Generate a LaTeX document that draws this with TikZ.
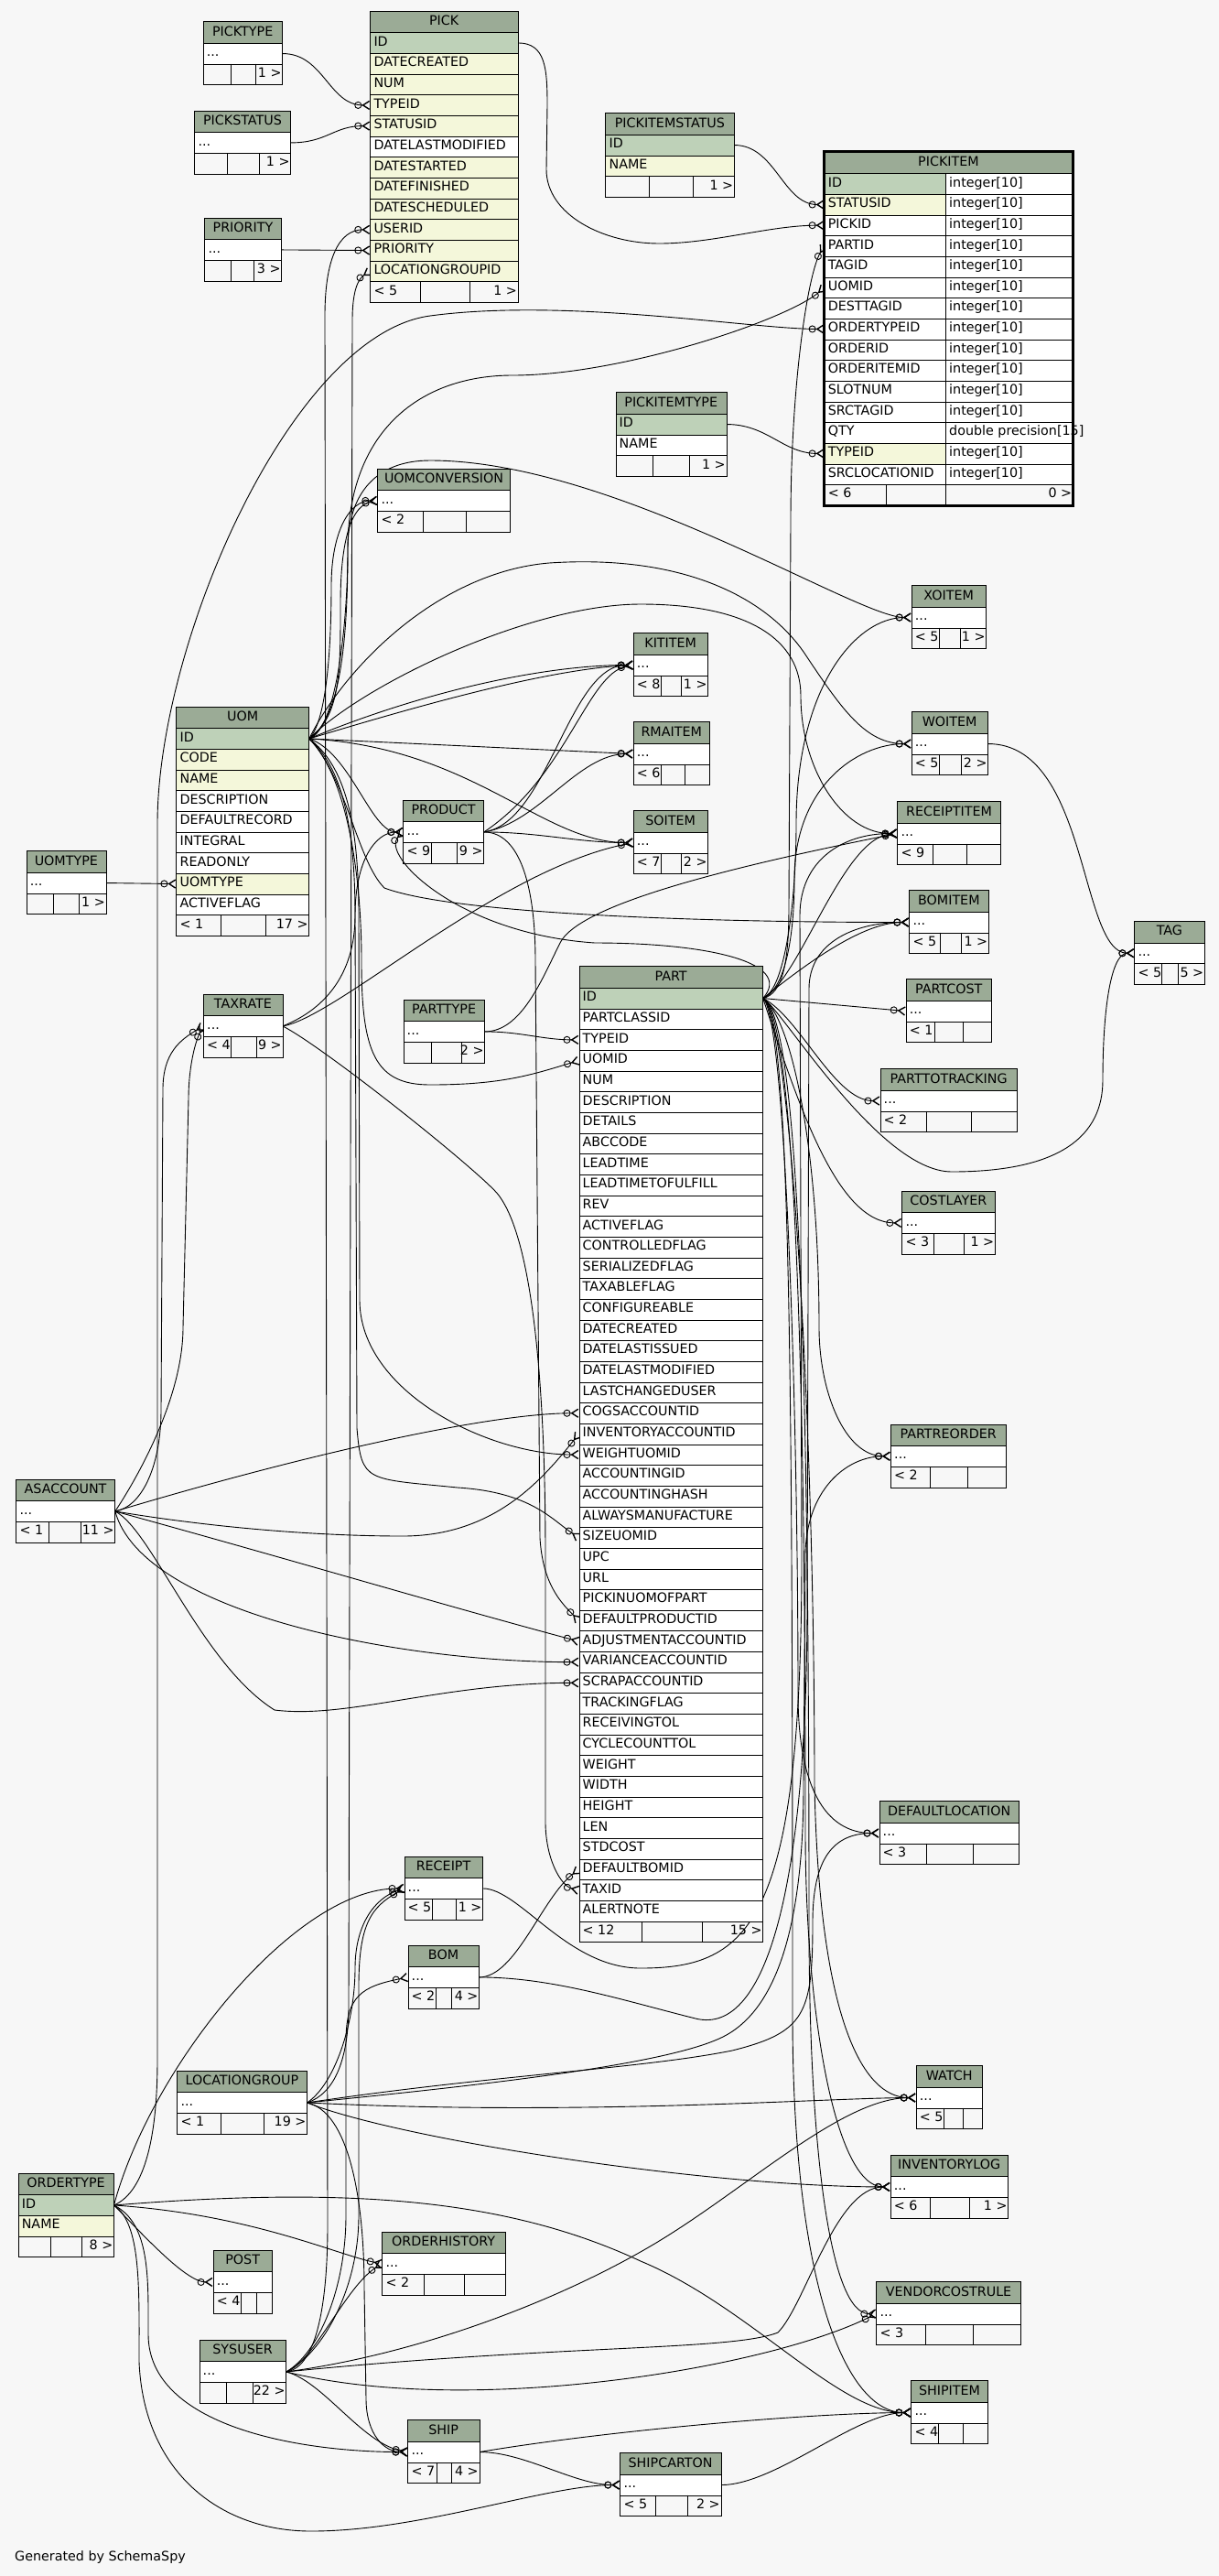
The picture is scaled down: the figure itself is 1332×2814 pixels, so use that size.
\documentclass[tikz,border=0pt]{standalone}
\usepackage{fontspec}
\setmainfont{DejaVu Sans}
\usetikzlibrary{arrows.meta}

\definecolor{paper}{HTML}{F7F7F7}
\definecolor{headfill}{HTML}{9BAB96}
\definecolor{keyfill}{HTML}{BED1B8}
\definecolor{idxfill}{HTML}{F4F7DA}

\newcommand{\rowfont}{\fontsize{14.3}{17}\selectfont}

\pgfdeclarelayer{paperlayer}
\pgfdeclarelayer{links}
\pgfsetlayers{paperlayer,links,main}

% table pieces, y grows downwards, sizes in px
\newcommand{\tablehead}[5]{% node, title, x, y, right x
  \pgfmathsetmacro\tblw{#5-(#3)}%
  \node[headbox, minimum width={\tblw pt}] (#1-head) at ({#3},{#4}) {#2};}
\newcommand{\tablerow}[6]{% node, text, x, y, right x, fill
  \pgfmathsetmacro\tblw{#5-(#3)}%
  \node[rowbox, fill=#6, minimum width={\tblw pt}] (#1) at ({#3},{#4}) {};
  \node[rowtext] at (#1.west) {#2};}
\newcommand{\tablefoot}[8]{% node, x, y, right x, divider 1, divider 2, left, right
  \pgfmathsetmacro\tblw{#4-(#2)}%
  \node[rowbox, minimum width={\tblw pt}] (#1-foot) at ({#2},{#3}) {};
  \draw ({#5},{#3}) -- ++(0,22.66) ({#6},{#3}) -- ++(0,22.66);
  \node[rowtext] at (#1-foot.west) {#7};
  \node[foottext] at (#1-foot.east) {#8};}
\newcommand{\smalltable}[9]{% node, title, x, y, right x, divider 1, divider 2, left, right
  \tablehead{#1}{#2}{#3}{#4}{#5}
  \tablerow{#1}{...}{#3}{#4+23.7}{#5}{white}
  \tablefoot{#1}{#3}{#4+46.36}{#5}{#6}{#7}{#8}{#9}}
\newcommand{\fulltable}[6]{% node, title, x, y, right x, rows
  \tablehead{#1}{#2}{#3}{#4}{#5}
  \foreach \col/\txt/\tone [count=\i from 0] in {#6}
    {\tablerow{#1-\col}{\txt}{#3}{#4+23.7+\i*22.66}{#5}{\tone}}}

\begin{document}
\begin{tikzpicture}[
    x=1pt, y=-1pt, line width=1pt,
    headbox/.style={draw, fill=headfill, anchor=north west, inner sep=0pt, minimum height=23.7pt, font=\rowfont, text height=10.4pt, text depth=3pt},
    rowbox/.style={draw, anchor=north west, inner sep=0pt, minimum height=22.66pt},
    rowtext/.style={anchor=west, inner xsep=4pt, inner ysep=0pt, font=\rowfont, text height=10.4pt, text depth=4pt},
    foottext/.style={rowtext, anchor=east, inner xsep=1pt},
    link/.style={line width=0.9pt},
    fk/.style={link, -{Circle[open, length=8pt, width=8pt] Straight Barb[reversed, length=7pt, width=9pt, line width=1.4pt]}}
]
    \useasboundingbox (0,0) rectangle (1332,2814);
    \begin{pgfonlayer}{paperlayer}
        \fill[paper] (0,0) rectangle (1332,2814);
    \end{pgfonlayer}

    % full tables
    \fulltable{pick}{PICK}{404.3}{11.7}{565.7}{id/ID/keyfill, datecreated/DATECREATED/idxfill, num/NUM/idxfill, typeid/TYPEID/idxfill, statusid/STATUSID/idxfill, datelastmodified/DATELASTMODIFIED/white, datestarted/DATESTARTED/idxfill, datefinished/DATEFINISHED/idxfill, datescheduled/DATESCHEDULED/idxfill, userid/USERID/idxfill, priority/PRIORITY/idxfill, locationgroupid/LOCATIONGROUPID/idxfill}
    \tablefoot{pick}{404.3}{307.3}{565.7}{459.3}{512.7}{< 5}{1 >}

    \fulltable{pickitemstatus}{PICKITEMSTATUS}{661.4}{123.3}{802}{id/ID/keyfill, name/NAME/idxfill}
    \tablefoot{pickitemstatus}{661.4}{192.3}{802}{709.3}{756.7}{}{1 >}

    \fulltable{pickitemtype}{PICKITEMTYPE}{672.5}{428.3}{793.5}{id/ID/keyfill, name/NAME/white}
    \tablefoot{pickitemtype}{672.5}{497.3}{793.5}{713.2}{753.2}{}{1 >}

    \tablehead{pickitem}{PICKITEM}{900.6}{165.6}{1172}
    \foreach \col/\txt/\tone/\kind [count=\i from 0] in {id/ID/keyfill/integer[10], statusid/STATUSID/idxfill/integer[10], pickid/PICKID/white/integer[10], partid/PARTID/white/integer[10], tagid/TAGID/white/integer[10], uomid/UOMID/white/integer[10], desttagid/DESTTAGID/white/integer[10], ordertypeid/ORDERTYPEID/white/integer[10], orderid/ORDERID/white/integer[10], orderitemid/ORDERITEMID/white/integer[10], slotnum/SLOTNUM/white/integer[10], srctagid/SRCTAGID/white/integer[10], qty/QTY/white/double precision[15], typeid/TYPEID/idxfill/integer[10], srclocationid/SRCLOCATIONID/white/integer[10]}
    {
        \tablerow{pickitem-\col}{\txt}{900.6}{189.3+\i*22.66}{1033}{\tone}
        \tablerow{pickitem-\col-type}{\kind}{1033}{189.3+\i*22.66}{1172}{white}
    }
    \tablefoot{pickitem}{900.6}{529.2}{1172}{968}{1033}{< 6}{0 >}
    \draw[line width=3pt] (pickitem-head.north west) rectangle (pickitem-foot.south east);

    \fulltable{uom}{UOM}{192.4}{771.7}{337.4}{id/ID/keyfill, code/CODE/idxfill, name/NAME/idxfill, description/DESCRIPTION/white, defaultrecord/DEFAULTRECORD/white, integral/INTEGRAL/white, readonly/READONLY/white, uomtype/UOMTYPE/idxfill, activeflag/ACTIVEFLAG/white}
    \tablefoot{uom}{192.4}{999.3}{337.4}{241.5}{289.7}{< 1}{17 >}

    \fulltable{part}{PART}{632.5}{1055.3}{833.3}{id/ID/keyfill, partclassid/PARTCLASSID/white, typeid/TYPEID/white, uomid/UOMID/white, num/NUM/white, description/DESCRIPTION/white, details/DETAILS/white, abccode/ABCCODE/white, leadtime/LEADTIME/white, leadtimetofulfill/LEADTIMETOFULFILL/white, rev/REV/white, activeflag/ACTIVEFLAG/white, controlledflag/CONTROLLEDFLAG/white, serializedflag/SERIALIZEDFLAG/white, taxableflag/TAXABLEFLAG/white, configureable/CONFIGUREABLE/white, datecreated/DATECREATED/white, datelastissued/DATELASTISSUED/white, datelastmodified/DATELASTMODIFIED/white, lastchangeduser/LASTCHANGEDUSER/white, cogsaccountid/COGSACCOUNTID/white, inventoryaccountid/INVENTORYACCOUNTID/white, weightuomid/WEIGHTUOMID/white, accountingid/ACCOUNTINGID/white, accountinghash/ACCOUNTINGHASH/white, alwaysmanufacture/ALWAYSMANUFACTURE/white, sizeuomid/SIZEUOMID/white, upc/UPC/white, url/URL/white, pickinuomofpart/PICKINUOMOFPART/white, defaultproductid/DEFAULTPRODUCTID/white, adjustmentaccountid/ADJUSTMENTACCOUNTID/white, varianceaccountid/VARIANCEACCOUNTID/white, scrapaccountid/SCRAPACCOUNTID/white, trackingflag/TRACKINGFLAG/white, receivingtol/RECEIVINGTOL/white, cyclecounttol/CYCLECOUNTTOL/white, weight/WEIGHT/white, width/WIDTH/white, height/HEIGHT/white, len/LEN/white, stdcost/STDCOST/white, defaultbomid/DEFAULTBOMID/white, taxid/TAXID/white, alertnote/ALERTNOTE/white}
    \tablefoot{part}{632.5}{2098.7}{833.3}{700.7}{767.4}{< 12}{15 >}

    \fulltable{ordertype}{ORDERTYPE}{19.6}{2373.7}{124.1}{id/ID/keyfill, name/NAME/idxfill}
    \tablefoot{ordertype}{19.6}{2442.7}{124.1}{55.4}{89.3}{}{8 >}

    % collapsed tables
    \smalltable{picktype}{PICKTYPE}{221.7}{23.3}{308.3}{251.7}{279.3}{}{1 >}
    \smalltable{pickstatus}{PICKSTATUS}{212.3}{120.7}{317.3}{248.3}{283.3}{}{1 >}
    \smalltable{priority}{PRIORITY}{223.3}{237.7}{307.3}{251.7}{277.3}{}{3 >}
    \smalltable{uomconversion}{UOMCONVERSION}{412.3}{511.7}{557.3}{461.7}{509.3}{< 2}{}
    \smalltable{xoitem}{XOITEM}{995.7}{639.3}{1077.3}{1025.7}{1049}{< 5}{1 >}
    \smalltable{kititem}{KITITEM}{691.7}{691.3}{773.3}{721.7}{744.3}{< 8}{1 >}
    \smalltable{woitem}{WOITEM}{995.7}{777.3}{1079.3}{1025.7}{1049.7}{< 5}{2 >}
    \smalltable{rmaitem}{RMAITEM}{691.7}{788.3}{775.3}{721.7}{748.3}{< 6}{}
    \smalltable{product}{PRODUCT}{440.4}{873.7}{528.4}{471.5}{499.4}{< 9}{9 >}
    \smalltable{soitem}{SOITEM}{691.7}{885.3}{773.3}{721.7}{744.3}{< 7}{2 >}
    \smalltable{receiptitem}{RECEIPTITEM}{980.3}{875.3}{1093.3}{1019.3}{1056.3}{< 9}{}
    \smalltable{uomtype}{UOMTYPE}{28.7}{929.3}{115.6}{57.8}{85.7}{}{1 >}
    \smalltable{bomitem}{BOMITEM}{993.3}{972.3}{1080}{1027}{1050}{< 5}{1 >}
    \smalltable{tag}{TAG}{1239.4}{1006}{1316}{1269}{1287}{< 5}{5 >}
    \smalltable{taxrate}{TAXRATE}{222}{1085.7}{308.5}{252.6}{280.1}{< 4}{9 >}
    \smalltable{parttype}{PARTTYPE}{440.5}{1091.7}{529.3}{471.5}{504}{}{2 >}
    \smalltable{partcost}{PARTCOST}{989.6}{1069.3}{1083.4}{1021}{1052.5}{< 1}{}
    \smalltable{parttotracking}{PARTTOTRACKING}{961.5}{1167.3}{1111.4}{1012}{1061}{< 2}{}
    \smalltable{costlayer}{COSTLAYER}{985.3}{1300.7}{1087}{1020}{1053}{< 3}{1 >}
    \smalltable{partreorder}{PARTREORDER}{973}{1555.5}{1099}{1016}{1057.3}{< 2}{}
    \smalltable{asaccount}{ASACCOUNT}{17.4}{1615.7}{125.4}{53.6}{88.4}{< 1}{11 >}
    \smalltable{defaultlocation}{DEFAULTLOCATION}{960.5}{1967.3}{1113.4}{1012.3}{1063}{< 3}{}
    \smalltable{receipt}{RECEIPT}{441.5}{2027.7}{527.2}{472.3}{497.7}{< 5}{1 >}
    \smalltable{bom}{BOM}{445.5}{2124.7}{523.2}{476.3}{493.3}{< 2}{4 >}
    \smalltable{watch}{WATCH}{1000.7}{2256.3}{1073.3}{1031.3}{1052.3}{< 5}{}
    \smalltable{locationgroup}{LOCATIONGROUP}{193.3}{2261.7}{335.2}{241.5}{288.4}{< 1}{19 >}
    \smalltable{inventorylog}{INVENTORYLOG}{972.7}{2353.7}{1101.3}{1016.3}{1059.3}{< 6}{1 >}
    \smalltable{orderhistory}{ORDERHISTORY}{417.4}{2437.7}{551.5}{463.2}{507.4}{< 2}{}
    \smalltable{post}{POST}{232.6}{2457.7}{297.3}{263.5}{280.1}{< 4}{}
    \smalltable{vendorcostrule}{VENDORCOSTRULE}{957.3}{2492.3}{1115.3}{1011.3}{1063.3}{< 3}{}
    \smalltable{sysuser}{SYSUSER}{217.5}{2555.7}{312.3}{247.4}{276.1}{}{22 >}
    \smalltable{shipitem}{SHIPITEM}{995.3}{2600.3}{1079.3}{1025.3}{1052.3}{< 4}{}
    \smalltable{ship}{SHIP}{445.4}{2643.3}{523.5}{477}{493}{< 7}{4 >}
    \smalltable{shipcarton}{SHIPCARTON}{677.3}{2679.3}{787.5}{715.8}{751.4}{< 5}{2 >}

    \node[rowtext, anchor=base west, inner xsep=0pt] (credit) at (16,2797) {Generated by SchemaSpy};

    \begin{pgfonlayer}{links}
    % pick
    \draw[fk] (picktype.east) .. controls +(45,0) and +(-45,0) .. (pick-typeid.west);
    \draw[fk] (pickstatus.east) .. controls +(40,0) and +(-40,0) .. (pick-statusid.west);
    \draw[fk] (priority.east) -- (pick-priority.west);
    \draw[fk] (sysuser.east) .. controls +(35,-5) and +(0,80) .. (358,2430) -- (355,345) .. controls +(0,-60) and +(-35,0) .. (pick-userid.west);
    \draw[fk] (locationgroup.east) .. controls +(30,-10) and +(0,60) .. (381,2190) -- (385,350) .. controls +(0,-35) and +(-12,8) .. (pick-locationgroupid.west);
    % pickitem
    \draw[fk] (pick-id.east) .. controls +(30,0) and +(0,-40) .. (598,115) -- (597,185) .. controls +(0,50) and +(-60,0) .. (720,266) .. controls +(60,0) and +(-60,0) .. (pickitem-pickid.west);
    \draw[fk] (pickitemstatus-id.east) .. controls +(45,0) and +(-45,0) .. (pickitem-statusid.west);
    \draw[fk] (pickitemtype-id.east) .. controls +(45,0) and +(-45,0) .. (pickitem-typeid.west);
    \draw[fk] (part-id.east) .. controls +(22,-5) and +(0,60) .. (862,990) -- (864,570) .. controls +(0,-150) and +(-18,30) .. (pickitem-partid.west);
    \draw[fk] (uom-id.east) .. controls +(30,-10) and +(0,80) .. (380,600) .. controls +(0,-130) and +(-100,0) .. (560,410) .. controls +(120,0) and +(-40,35) .. (pickitem-uomid.west);
    \draw[fk] (ordertype-id.east) .. controls +(35,-15) and +(0,80) .. (172,2250) -- (172,900) .. controls +(0,-200) and +(-150,20) .. (470,345) .. controls +(150,-20) and +(-80,0) .. (pickitem-ordertypeid.west);
    % uom
    \draw[fk] (uomtype.east) -- (uom-uomtype.west);
    \draw[fk] (uom-id.east) .. controls +(20,-20) and +(0,60) .. (362,640) .. controls +(0,-60) and +(-30,0) .. (uomconversion.west);
    \draw[fk] (uom-id.east) .. controls +(35,-25) and +(0,70) .. (372,660) .. controls +(0,-80) and +(-25,5) .. (uomconversion.west);
    \draw[fk] (uom-id.east) .. controls +(30,-20) and +(0,120) .. (380,600) .. controls +(0,-60) and +(-60,0) .. (470,503) .. controls +(200,0) and +(-60,0) .. (xoitem.west);
    \draw[fk] (uom-id.east) .. controls +(40,-80) and +(-120,10) .. (600,615) .. controls +(150,-10) and +(-40,-60) .. (880,715) .. controls +(40,60) and +(-50,0) .. (woitem.west);
    \draw[fk] (uom-id.east) .. controls +(60,-60) and +(-120,0) .. (700,660) .. controls +(120,0) and +(0,-60) .. (875,760) .. controls +(0,80) and +(-60,0) .. (receiptitem.west);
    \draw[fk] (uom-id.east) .. controls +(100,-30) and +(-100,5) .. (kititem.west);
    \draw[fk] (uom-id.east) .. controls +(120,-50) and +(-100,0) .. (kititem.west);
    \draw[fk] (uom-id.east) -- (rmaitem.west);
    \draw[fk] (uom-id.east) .. controls +(180,10) and +(-100,0) .. (soitem.west);
    \draw[fk] (uom-id.east) .. controls +(40,40) and +(-30,-30) .. (420,970) .. controls +(80,30) and +(-200,0) .. (bomitem.west);
    \draw[fk] (uom-id.east) .. controls +(45,15) and +(-35,0) .. (product.west);
    \draw[fk] (uom-id.east) .. controls +(40,40) and +(0,-100) .. (395,1050) .. controls +(0,100) and +(-60,0) .. (470,1185) .. controls +(80,0) and +(-50,15) .. (part-uomid.west);
    \draw[fk] (uom-id.east) .. controls +(40,30) and +(0,-100) .. (392,1000) -- (393,1420) .. controls +(0,100) and +(-100,0) .. (part-weightuomid.west);
    \draw[fk] (uom-id.east) .. controls +(35,30) and +(0,-100) .. (388,1000) -- (390,1560) .. controls +(5,60) and +(-100,-10) .. (500,1625) .. controls +(80,5) and +(-30,-20) .. (part-sizeuomid.west);
    % part children
    \draw[fk] (part-id.east) .. controls +(25,-10) and +(0,80) .. (870,900) .. controls +(0,-150) and +(-60,0) .. (xoitem.west);
    \draw[fk] (part-id.east) .. controls +(25,-10) and +(0,60) .. (868,960) .. controls +(0,-100) and +(-60,0) .. (woitem.west);
    \draw[fk] (part-id.east) .. controls +(40,-20) and +(-60,5) .. (receiptitem.west);
    \draw[fk] (part-id.east) .. controls +(50,-40) and +(-50,0) .. (bomitem.west);
    \draw[fk] (part-id.east) -- (partcost.west);
    \draw[fk] (part-id.east) .. controls +(40,20) and +(-50,0) .. (parttotracking.west);
    \draw[fk] (part-id.east) .. controls +(20,10) and +(-80,0) .. (1040,1280) .. controls +(120,0) and +(0,60) .. (1205,1180) .. controls +(0,-80) and +(-25,0) .. (tag.west);
    \draw[fk] (part-id.east) .. controls +(40,120) and +(-70,0) .. (costlayer.west);
    \draw[fk] (part-id.east) .. controls +(30,20) and +(0,-200) .. (895,1450) .. controls +(0,70) and +(-50,0) .. (partreorder.west);
    \draw[fk] (part-id.east) .. controls +(25,20) and +(0,-300) .. (872,1850) .. controls +(0,100) and +(-60,0) .. (defaultlocation.west);
    \draw[fk] (part-id.east) .. controls +(30,20) and +(0,-400) .. (890,1950) .. controls +(5,250) and +(-60,0) .. (watch.west);
    \draw[fk] (part-id.east) .. controls +(35,20) and +(0,-500) .. (880,2000) .. controls +(0,200) and +(-60,0) .. (inventorylog.west);
    \draw[fk] (part-id.east) .. controls +(40,20) and +(0,-600) .. (884,2100) .. controls +(0,250) and +(-50,0) .. (vendorcostrule.west);
    \draw[fk] (part-id.east) .. controls +(30,20) and +(0,-700) .. (866,2200) .. controls +(0,300) and +(-70,0) .. (shipitem.west);
    \draw[fk] (part-id.east) .. controls +(35,-40) and +(120,0) .. (650,1030) .. controls +(-150,-10) and +(-25,25) .. (product.west);
    % product, taxrate, parttype
    \draw[fk] (product.east) .. controls +(70,-10) and +(-70,0) .. (kititem.west);
    \draw[fk] (product.east) .. controls +(90,-60) and +(-50,10) .. (kititem.west);
    \draw[fk] (product.east) .. controls +(60,-10) and +(-60,0) .. (rmaitem.west);
    \draw[fk] (product.east) .. controls +(60,0) and +(-60,0) .. (soitem.west);
    \draw[fk] (product.east) .. controls +(40,0) and +(0,-80) .. (585,1050) -- (590,1680) .. controls +(3,50) and +(-20,-20) .. (part-defaultproductid.west);
    \draw[fk] (taxrate.east) .. controls +(60,-10) and +(-150,30) .. (soitem.west);
    \draw[fk] (taxrate.east) .. controls +(50,-20) and +(0,60) .. (388,1000) .. controls +(0,-60) and +(-30,0) .. (product.west);
    \draw[fk] (taxrate.east) .. controls +(40,20) and +(-40,-40) .. (540,1300) .. controls +(40,40) and +(0,-200) .. (596,1700) -- (596,1990) .. controls +(0,40) and +(-20,-5) .. (part-taxid.west);
    \draw[fk] (parttype.east) .. controls +(40,0) and +(-40,0) .. (part-typeid.west);
    \draw[fk] (parttype.east) .. controls +(40,0) and +(-20,40) .. (612,1030) .. controls +(20,-40) and +(-200,40) .. (receiptitem.west);
    \draw[fk] (woitem.east) .. controls +(110,0) and +(-60,0) .. (tag.west);
    % asaccount
    \draw[fk] (asaccount.east) .. controls +(200,-60) and +(-100,0) .. (part-cogsaccountid.west);
    \draw[fk] (asaccount.east) .. controls +(120,20) and +(-80,0) .. (440,1678) .. controls +(100,0) and +(-40,50) .. (part-inventoryaccountid.west);
    \draw[fk] (asaccount.east) .. controls +(200,55) and +(-150,-40) .. (part-adjustmentaccountid.west);
    \draw[fk] (asaccount.east) .. controls +(30,110) and +(-200,0) .. (part-varianceaccountid.west);
    \draw[fk] (asaccount.east) .. controls +(40,20) and +(-80,-50) .. (300,1868) .. controls +(80,10) and +(-150,0) .. (part-scrapaccountid.west);
    \draw[fk] (asaccount.east) .. controls +(30,-5) and +(0,60) .. (176,1540) -- (178,1190) .. controls +(0,-40) and +(-25,15) .. (taxrate.west);
    \draw[fk] (asaccount.east) .. controls +(20,-30) and +(0,80) .. (200,1450) -- (206,1200) .. controls +(0,-30) and +(-10,20) .. (taxrate.west);
    % bottom part
    \draw[fk] (receipt.east) .. controls +(40,0) and +(-80,0) .. (700,2150) .. controls +(120,0) and +(0,400) .. (876,1700) -- (874,1000) .. controls +(0,-60) and +(-60,0) .. (receiptitem.west);
    \draw[fk] (bom.east) .. controls +(40,0) and +(-40,30) .. (part-defaultbomid.west);
    \draw[fk] (bom.east) .. controls +(80,0) and +(-80,-20) .. (760,2205) .. controls +(80,20) and +(0,300) .. (882,1750) -- (884,1080) .. controls +(0,-50) and +(-60,0) .. (bomitem.west);
    \draw[fk] (locationgroup.east) .. controls +(30,-20) and +(0,60) .. (388,2150) .. controls +(0,-50) and +(-30,10) .. (receipt.west);
    \draw[fk] (locationgroup.east) .. controls +(45,10) and +(0,-100) .. (398,2500) -- (400,2620) .. controls +(0,40) and +(-25,0) .. (ship.west);
    \draw[fk] (locationgroup.east) .. controls +(200,-30) and +(-100,20) .. (800,2240) .. controls +(80,-20) and +(0,100) .. (888,2100) .. controls +(0,-70) and +(-50,0) .. (defaultlocation.west);
    \draw[fk] (locationgroup.east) .. controls +(200,-20) and +(-60,30) .. (790,2225) .. controls +(60,-30) and +(0,150) .. (878,1950) -- (880,1700) .. controls +(0,-70) and +(-50,0) .. (partreorder.west);
    \draw[fk] (locationgroup.east) .. controls +(300,15) and +(-100,0) .. (watch.west);
    \draw[fk] (locationgroup.east) .. controls +(100,40) and +(-200,0) .. (inventorylog.west);
    \draw[fk] (sysuser.east) .. controls +(40,-20) and +(0,80) .. (392,2420) -- (392,2170) .. controls +(0,-70) and +(-35,20) .. (receipt.west);
    \draw[fk] (sysuser.east) .. controls +(35,-20) and +(0,80) .. (378,2420) -- (378,2230) .. controls +(0,-50) and +(-50,10) .. (bom.west);
    \draw[fk] (sysuser.east) .. controls +(30,-10) and +(-40,25) .. (orderhistory.west);
    \draw[fk] (sysuser.east) .. controls +(40,10) and +(-50,-10) .. (ship.west);
    \draw[fk] (sysuser.east) .. controls +(150,-20) and +(-100,60) .. (717,2450) .. controls +(100,-60) and +(-80,0) .. (watch.west);
    \draw[fk] (sysuser.east) .. controls +(300,-30) and +(-50,20) .. (850,2548) .. controls +(30,-30) and +(-60,0) .. (inventorylog.west);
    \draw[fk] (sysuser.east) .. controls +(200,50) and +(-120,60) .. (vendorcostrule.west);
    \draw[fk] (ordertype-id.east) .. controls +(40,-150) and +(-120,0) .. (receipt.west);
    \draw[fk] (ordertype-id.east) .. controls +(150,10) and +(-50,-10) .. (orderhistory.west);
    \draw[fk] (ordertype-id.east) .. controls +(30,30) and +(-30,0) .. (post.west);
    \draw[fk] (ordertype-id.east) .. controls +(40,20) and +(0,-60) .. (162,2550) .. controls +(0,100) and +(-120,0) .. (ship.west);
    \draw[fk] (ordertype-id.east) .. controls +(30,20) and +(0,-80) .. (152,2580) .. controls +(5,120) and +(-100,0) .. (340,2765) .. controls +(120,0) and +(-80,0) .. (shipcarton.west);
    \draw[fk] (ordertype-id.east) .. controls +(250,-20) and +(-150,-70) .. (700,2470) .. controls +(120,50) and +(-80,0) .. (shipitem.west);
    \draw[fk] (ship.east) .. controls +(50,0) and +(-50,0) .. (shipcarton.west);
    \draw[fk] (ship.east) .. controls +(150,-25) and +(-100,0) .. (shipitem.west);
    \draw[fk] (shipcarton.east) .. controls +(60,0) and +(-60,0) .. (shipitem.west);
    \end{pgfonlayer}
\end{tikzpicture}
\end{document}
